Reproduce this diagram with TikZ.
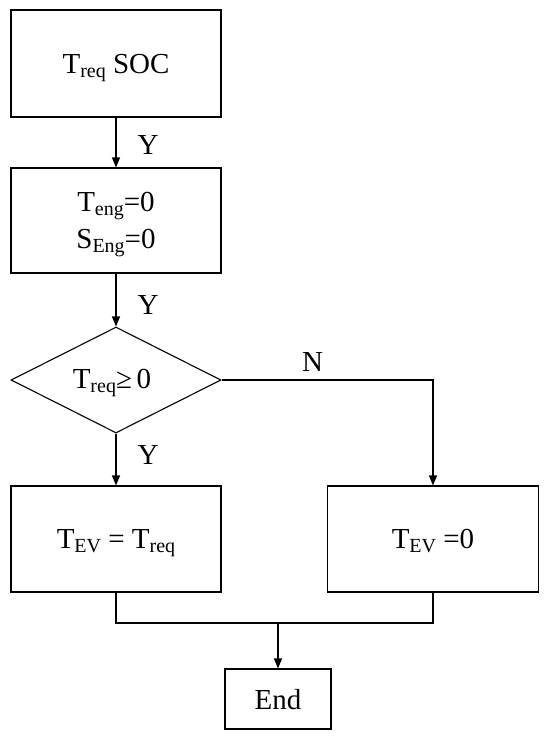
\documentclass[tikz,border=0pt]{standalone}
\usepackage{fontspec}
\setmainfont{Liberation Serif}
\usetikzlibrary{arrows.meta,shapes.geometric}
\newcommand{\lowsub}[1]{\raisebox{-4pt}{\fontsize{20}{20}\selectfont #1}}
\begin{document}
\begin{tikzpicture}[x=1pt,y=-1pt,
  every node/.style={font=\fontsize{29}{37}\selectfont},
  box/.style={draw, line width=1.1pt, rectangle, inner sep=0pt, align=center, text depth=0pt},
  dia/.style={draw, line width=1.1pt, diamond, inner sep=0pt, aspect=1.98},
  arr/.style={line width=1.1pt, -{Triangle[length=10pt,width=8pt]}},
  ln/.style={line width=1.1pt},
  lab/.style={inner sep=0pt}]
\useasboundingbox (0,0) rectangle (550,740);
\node[box, minimum width=210pt, minimum height=107pt] (b1) at (116,63.5) {T\lowsub{req} SOC};
\node[box, minimum width=210pt, minimum height=105pt] (b2) at (116,220.5) {T\lowsub{eng}=0\\S\lowsub{Eng}=0};
\node[dia, minimum width=210pt, minimum height=106pt] (d) at (116,380) {};
\node[inner sep=0pt, text depth=0pt] (dt) at (112,379) {T\lowsub{req}≥\,0};
\node[box, minimum width=210pt, minimum height=106pt] (b3) at (116,539) {T\lowsub{EV} = T\lowsub{req}};
\node[box, minimum width=211pt, minimum height=106pt] (b4) at (433,539) {T\lowsub{EV} =0};
\node[box, minimum width=106pt, minimum height=60pt] (e) at (278,699) {End};
\draw[arr] (b1.south) -- node[lab, pos=0.55, right=21pt] {Y} (b2.north);
\draw[arr] (b2.south) -- node[lab, pos=0.6, right=21pt] {Y} (d.north);
\draw[arr] (d.south) -- node[lab, pos=0.42, right=21pt] {Y} (b3.north);
\draw[arr] (d.east) -| node[lab, pos=0.215, above=8pt] {N} (b4.north);
\coordinate (j) at (278,623);
\draw[ln] (b3.south) |- (j) -| (b4.south);
\draw[arr] (j) -- (e.north);
\end{tikzpicture}
\end{document}
